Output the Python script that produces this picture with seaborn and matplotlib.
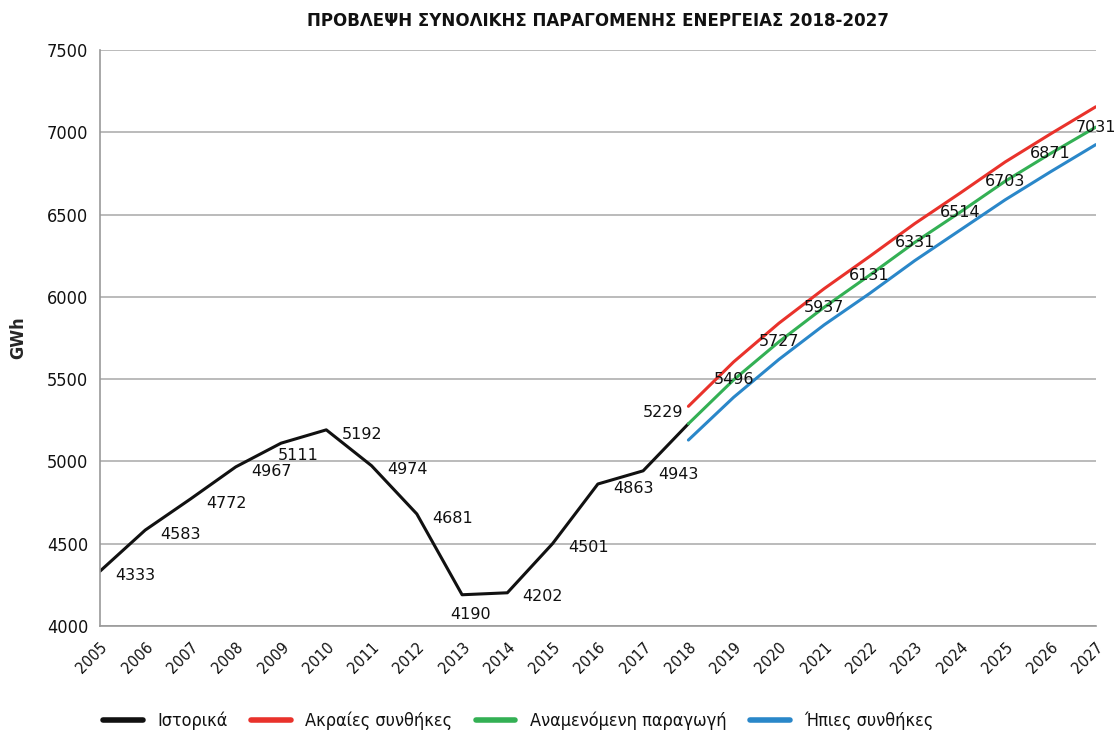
import numpy as np
import pandas as pd
import matplotlib.pyplot as plt
import seaborn as sns

# data
hist_years = list(range(2005, 2019))
hist_values = [4333, 4583, 4772, 4967, 5111, 5192, 4974, 4681, 4190, 4202, 4501, 4863, 4943, 5229]

fc_years = list(range(2018, 2028))
extreme_values = [5335, 5605, 5840, 6050, 6245, 6445, 6630, 6820, 6990, 7155]
expected_values = [5229, 5496, 5727, 5937, 6131, 6331, 6514, 6703, 6871, 7031]
mild_values = [5130, 5390, 5620, 5830, 6020, 6220, 6405, 6590, 6760, 6925]

names = ['Ιστορικά', 'Ακραίες συνθήκες', 'Αναμενόμενη παραγωγή', 'Ήπιες συνθήκες']
colors = ['#111111', '#e9322b', '#33b054', '#2a87c9']

df = pd.concat([
    pd.DataFrame({'year': hist_years, 'GWh': hist_values, 'series': names[0]}),
    pd.DataFrame({'year': fc_years, 'GWh': extreme_values, 'series': names[1]}),
    pd.DataFrame({'year': fc_years, 'GWh': mild_values, 'series': names[3]}),
    pd.DataFrame({'year': fc_years, 'GWh': expected_values, 'series': names[2]}),
])

sns.set_style('white')
plt.rcParams['font.family'] = ['DejaVu Sans']
plt.rcParams['font.stretch'] = 'condensed'
plt.rcParams['text.color'] = '#111111'
plt.rcParams['xtick.color'] = '#111111'
plt.rcParams['ytick.color'] = '#111111'

fig = plt.figure(figsize=(11.17, 7.31), dpi=100)
ax = fig.add_axes([0.0895, 0.1436, 0.8915, 0.788])

sns.lineplot(data=df, x='year', y='GWh', hue='series', hue_order=names,
             palette=dict(zip(names, colors)), linewidth=2.2, ax=ax,
             sort=False, estimator=None)

ax.set_xlim(2005, 2027)
ax.set_ylim(4000, 7500)
ax.set_yticks(np.arange(4000, 7501, 500))
ax.set_xticks(range(2005, 2028))
ax.set_xticklabels([str(y) for y in range(2005, 2028)], rotation=45, ha='right',
                   rotation_mode='anchor', fontsize=11.5)
ax.tick_params(axis='y', labelsize=13, length=5, color='#999999', width=1)
ax.tick_params(axis='x', length=6, color='#999999', width=1)
ax.grid(axis='y', color='#b5b5b5', linewidth=1.3)
ax.set_axisbelow(True)
for s in ['top', 'right']:
    ax.spines[s].set_visible(False)
for s in ['left', 'bottom']:
    ax.spines[s].set_color('#999999')
    ax.spines[s].set_linewidth(1.2)

ax.set_xlabel('')
ax.set_ylabel('GWh', fontsize=13, fontweight='semibold', labelpad=14)
ax.set_title('ΠΡΟΒΛΕΨΗ ΣΥΝΟΛΙΚΗΣ ΠΑΡΑΓΟΜΕΝΗΣ ΕΝΕΡΓΕΙΑΣ 2018-2027',
             fontsize=13.3, fontweight='bold', pad=17)

# data labels
special = {2009: (12, -9, 'center'), 2013: (6, -14, 'center'), 2018: (-4, 8, 'right')}
for yr, v in zip(hist_years, hist_values):
    dx, dy, ha = special.get(yr, (11, -3, 'left'))
    ax.annotate(str(v), (yr, v), xytext=(dx, dy), textcoords='offset points',
                ha=ha, va='center', fontsize=11.5, fontstretch='normal')
for yr, v in zip(fc_years[1:], expected_values[1:]):
    ax.annotate(str(v), (yr, v), ha='center', va='center', fontsize=11.5,
                fontstretch='normal')

leg = ax.legend(loc='upper center', bbox_to_anchor=(0.42, -0.12), ncol=4,
                frameon=False, fontsize=13, handlelength=2.2, columnspacing=1.3)
for line in leg.get_lines():
    line.set_linewidth(4)

fig.savefig('out.png', dpi=100)
